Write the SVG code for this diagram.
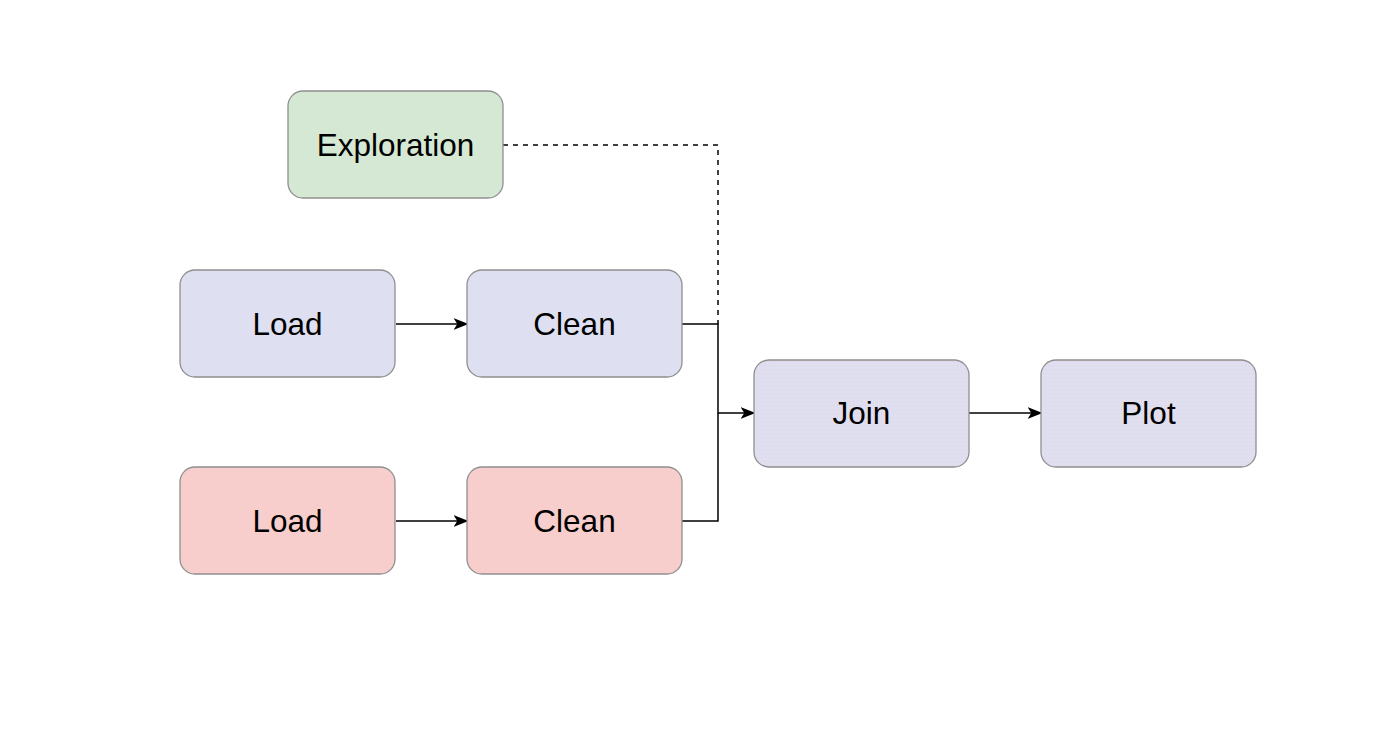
<svg xmlns="http://www.w3.org/2000/svg" width="1400" height="755" viewBox="0 0 1400 755">
<style>
.n{stroke:#8f8f8f;stroke-width:1.3}
.t{font-family:"Liberation Sans",Arial,sans-serif;font-size:31.5px;fill:#000;text-anchor:middle;dominant-baseline:central}
.c{fill:none;stroke:#000;stroke-width:1.5}
.d{stroke-dasharray:5 5}
</style>
<defs>
<marker id="a" viewBox="0 0 20 20" refX="18" refY="10" markerWidth="15" markerHeight="15" markerUnits="userSpaceOnUse" orient="auto">
<path d="M0,2 L20,10 L0,18 L5,10 Z" fill="#000"/>
</marker>
<pattern id="p" width="4" height="4" patternUnits="userSpaceOnUse">
<rect width="4" height="4" fill="#dedff0"/>
<rect x="1" y="1" width="1" height="1" fill="#f6c8cc"/>
</pattern>
</defs>
<rect width="1400" height="755" fill="#fff"/>
<g id="connectors">
<path class="c" d="M396,324 H467" marker-end="url(#a)"/>
<path class="c" d="M396,521 H467" marker-end="url(#a)"/>
<path class="c" d="M682,324 H718 V413 H754" marker-end="url(#a)"/>
<path class="c" d="M682,521 H718 V413"/>
<path class="c d" d="M503,145 H718 V324"/>
<path class="c" d="M969,413 H1041" marker-end="url(#a)"/>
</g>
<g id="exploration"><rect class="n" x="288" y="91" width="215" height="107" rx="15" fill="#d5e8d4"/><text class="t" x="395.5" y="145">Exploration</text></g>
<g id="load1"><rect class="n" x="180" y="270" width="215" height="107" rx="15" fill="#dedff0"/><text class="t" x="287.5" y="324">Load</text></g>
<g id="clean1"><rect class="n" x="467" y="270" width="215" height="107" rx="15" fill="#dedff0"/><text class="t" x="574.5" y="324">Clean</text></g>
<g id="load2"><rect class="n" x="180" y="467" width="215" height="107" rx="15" fill="#f8cecc"/><text class="t" x="287.5" y="521">Load</text></g>
<g id="clean2"><rect class="n" x="467" y="467" width="215" height="107" rx="15" fill="#f8cecc"/><text class="t" x="574.5" y="521">Clean</text></g>
<g id="join"><rect class="n" x="754" y="360" width="215" height="107" rx="15" fill="url(#p)"/><text class="t" x="861.5" y="413">Join</text></g>
<g id="plot"><rect class="n" x="1041" y="360" width="215" height="107" rx="15" fill="url(#p)"/><text class="t" x="1148.5" y="413">Plot</text></g>
</svg>
